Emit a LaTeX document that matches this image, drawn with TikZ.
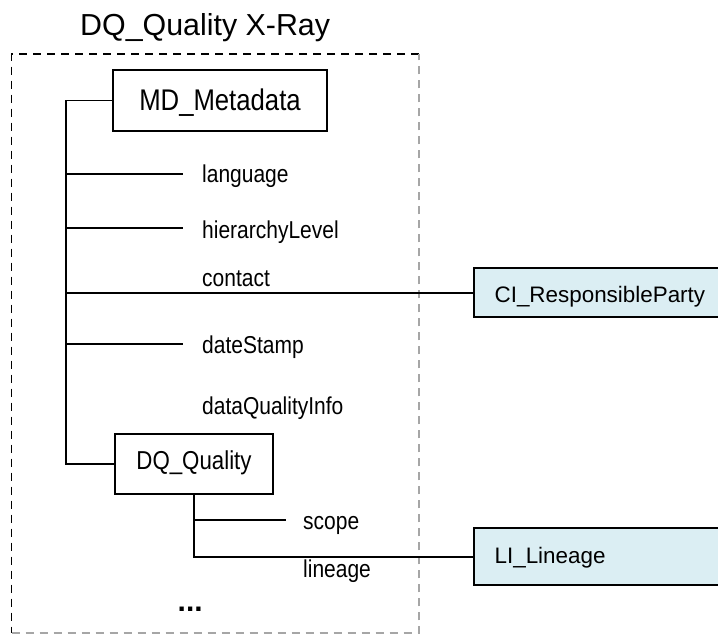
\documentclass[tikz,border=0pt]{standalone}
\usepackage{fontspec}
\setmainfont{Liberation Sans}
\newfontfamily\narrowsans{Liberation Sans}[FakeStretch=0.86]
\definecolor{clsblue}{HTML}{DBEEF3}
\definecolor{framegray}{HTML}{A6A6A6}

\begin{document}
\begin{tikzpicture}[x=1bp,y=-1bp,
  conn/.style={line width=1.8bp},
  frameline/.style={line width=1.5bp, dash pattern=on 8bp off 6bp},
  box/.style={draw, line width=1.8bp, inner sep=0pt},
  classbox/.style={box, fill=clsblue, anchor=west, text width=240bp, align=left, inner xsep=21bp,
    font=\fontsize{22.5}{27}\selectfont},
  lbl/.style={anchor=base west, inner sep=0pt, font=\narrowsans\fontsize{24.5}{29}\selectfont}]
\useasboundingbox (0,0) rectangle (718,634);

\node[anchor=base west, inner sep=0pt, font=\fontsize{30.5}{36}\selectfont] (title) at (80,36) {DQ\_Quality X-Ray};

\draw[frameline] (419,54) -- (11.7,54) -- (11.7,633);
\draw[frameline, framegray] (11.7,633) -- (419,633) -- (419,54);

\node[box, minimum width=214bp, text height=41bp, text depth=20bp, font=\narrowsans\fontsize{30}{36}\selectfont] (md) at (220,100.5) {MD\_Metadata};
\node[box, minimum width=158bp, text height=35bp, text depth=24.7bp, font=\narrowsans\fontsize{26}{31}\selectfont] (dq) at (194,464.2) {DQ\_Quality};
\node[classbox, text height=34.4bp, text depth=14.6bp] (ci) at (472.7,292.8) {CI\_ResponsibleParty};
\node[classbox, text height=35bp, text depth=21.7bp] (li) at (472.7,556.7) {LI\_Lineage};

\coordinate (trunk) at ([xshift=-46bp]md.west);
\coordinate (lang-e) at (183,174);
\coordinate (hier-e) at (183,228);
\coordinate (date-e) at (183,344);
\coordinate (scope-e) at (285.7,520);

\node[lbl] (lang) at (202,183) {language};
\node[lbl] (hier) at (202,238.3) {hierarchyLevel};
\node[lbl] (contact) at (202,286) {contact};
\node[lbl] (date) at (202,353.3) {dateStamp};
\node[lbl] (dqinfo) at (202,414) {dataQualityInfo};
\node[lbl] (scope) at (303,529) {scope};
\node[lbl] (lineage) at (303,577.3) {lineage};
\node[anchor=base west, inner sep=0pt, font=\bfseries\fontsize{30}{34}\selectfont] (more) at (177.5,611.5) {...};

\draw[conn] (md.west) -- (trunk) |- (dq.west);
\draw[conn] (trunk |- lang-e) -- (lang-e);
\draw[conn] (trunk |- hier-e) -- (hier-e);
\draw[conn] (trunk |- ci.west) -- (ci.west);
\draw[conn] (trunk |- date-e) -- (date-e);
\draw[conn] (dq.south) |- (li.west);
\draw[conn] (dq.south |- scope-e) -- (scope-e);
\end{tikzpicture}
\end{document}
